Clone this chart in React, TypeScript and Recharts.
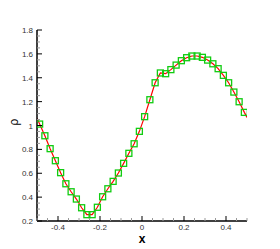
import React from 'react';
import { ComposedChart, Line, Scatter, XAxis, YAxis, Label } from 'recharts';

// cell-centre positions of the numerical solution
const cellX = [
    -0.4875, -0.4625, -0.4375, -0.4125, -0.3875, -0.3625, -0.3375, -0.3125, -0.2875, -0.2625,
    -0.2375, -0.2125, -0.1875, -0.1625, -0.1375, -0.1125, -0.0875, -0.0625, -0.0375, -0.0125,
    0.0125, 0.0375, 0.0625, 0.0875, 0.1125, 0.1375, 0.1625, 0.1875, 0.2125, 0.2375,
    0.2625, 0.2875, 0.3125, 0.3375, 0.3625, 0.3875, 0.4125, 0.4375, 0.4625, 0.4875,
];
const cellRho = [
    1.012, 0.914, 0.806, 0.705, 0.605, 0.512, 0.445, 0.384, 0.311, 0.253,
    0.253, 0.315, 0.403, 0.470, 0.532, 0.602, 0.683, 0.767, 0.847, 0.951,
    1.074, 1.216, 1.358, 1.440, 1.434, 1.468, 1.506, 1.543, 1.568, 1.582,
    1.582, 1.571, 1.548, 1.517, 1.476, 1.420, 1.358, 1.280, 1.199, 1.110,
];

// reference curve
const refX = [-0.5, ...cellX, 0.5];
const refRho = [1.06, ...cellRho, 1.068];

const xMajor = [-0.4, -0.2, 0, 0.2, 0.4];
const yMajor = [0.2, 0.4, 0.6, 0.8, 1.0, 1.2, 1.4, 1.6, 1.8];

const cells = cellX.map((x, i) => ({ x, rho: cellRho[i] }));
const reference = refX.map((x, i) => ({ x, rho: refRho[i] }));

const round = (v: number) => Math.round(v * 100) / 100;
const xTicks: number[] = [];
for (let v = -0.5; v <= 0.5001; v += 0.05) xTicks.push(round(v));
const yTicks: number[] = [];
for (let v = 0.2; v <= 1.8001; v += 0.05) yTicks.push(round(v));

const isMajor = (v: number, majors: number[]) => majors.some((m) => Math.abs(m - v) < 1e-6);
const fmt = (v: number) => String(round(v));

const tickFont = { fontFamily: 'Liberation Sans, Arial, sans-serif', fontSize: 8, fill: '#333' };

function YTick(props: any) {
    const { x, y, payload } = props;
    const major = isMajor(payload.value, yMajor);
    return (
        <g>
            <line x1={x} y1={y} x2={x + (major ? 5 : 3)} y2={y} stroke={major ? '#000' : '#999'} strokeWidth={1} />
            {major && (
                <text x={x - 4} y={y + 3} textAnchor="end" {...tickFont}>
                    {fmt(payload.value)}
                </text>
            )}
        </g>
    );
}

function XTick(props: any) {
    const { x, y, payload } = props;
    const major = isMajor(payload.value, xMajor);
    return (
        <g>
            <line x1={x} y1={y} x2={x} y2={y - (major ? 5 : 3)} stroke={major ? '#000' : '#999'} strokeWidth={1} />
            {major && (
                <text x={x} y={y + 9} textAnchor="middle" {...tickFont}>
                    {fmt(payload.value)}
                </text>
            )}
        </g>
    );
}

const Square = (props: any) => (
    <rect x={props.cx - 3} y={props.cy - 3} width={6} height={6} fill="none" stroke="#11cc11" strokeWidth={1.3} />
);

export default function App() {
    return (
        <div style={{ width: 280, height: 249, background: '#fff' }}>
            <style>{'body{margin:0}'}</style>
            <ComposedChart width={280} height={249} margin={{ top: 30, right: 33, bottom: 0, left: 0 }}>
                <XAxis
                    type="number"
                    dataKey="x"
                    domain={[-0.5, 0.5]}
                    ticks={xTicks}
                    interval={0}
                    tickSize={0}
                    tickMargin={0}
                    tick={<XTick />}
                    height={28}
                    axisLine={{ stroke: '#000', strokeWidth: 1.5 }}
                    allowDataOverflow
                >
                    <Label
                        value="x"
                        position="insideBottom"
                        offset={6}
                        style={{ fontFamily: 'Liberation Sans, Arial, sans-serif', fontSize: 12, fontWeight: 'bold', fill: '#000' }}
                    />
                </XAxis>
                <YAxis
                    type="number"
                    dataKey="rho"
                    domain={[0.2, 1.8]}
                    ticks={yTicks}
                    interval={0}
                    tickSize={0}
                    tickMargin={0}
                    tick={<YTick />}
                    width={37}
                    axisLine={{ stroke: '#000', strokeWidth: 1.5 }}
                    allowDataOverflow
                >
                    <Label
                        value="ρ"
                        angle={-90}
                        position="insideLeft"
                        offset={14}
                        style={{ fontFamily: 'Liberation Sans, Arial, sans-serif', fontSize: 12, fill: '#000' }}
                    />
                </YAxis>
                <Scatter data={cells} dataKey="rho" shape={<Square />} isAnimationActive={false} />
                <Line
                    data={reference}
                    dataKey="rho"
                    type="linear"
                    stroke="#ff0000"
                    strokeWidth={1.2}
                    dot={false}
                    isAnimationActive={false}
                />
            </ComposedChart>
        </div>
    );
}
